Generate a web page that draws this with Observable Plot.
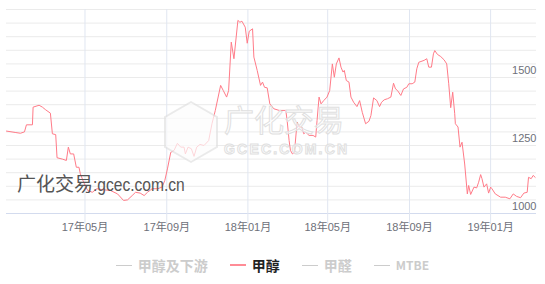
<!DOCTYPE html>
<html>
<head>
<meta charset="utf-8">
<script src="https://cdn.jsdelivr.net/npm/d3@7"></script>
<script src="https://cdn.jsdelivr.net/npm/@observablehq/plot@0.6"></script>
<style>
  body { margin: 0; background: #fff; font-family: "Liberation Sans", "Noto Sans CJK SC", sans-serif; }
  #wrap { position: relative; width: 545px; height: 284px; overflow: hidden; }
  #chart { position: absolute; left: 0; top: 0; }
  .wm-hex { position: absolute; left: 164px; top: 101px; width: 54px; height: 62px; background: #e2e2e2; clip-path: polygon(50% 0, 100% 25%, 100% 75%, 50% 100%, 0 75%, 0 25%); opacity: 0.7; pointer-events: none; }
  .wm-hex::after { content: ""; position: absolute; left: 2px; top: 2px; right: 2px; bottom: 2px; background: rgba(255,255,255,0.92); clip-path: polygon(50% 0, 100% 25%, 100% 75%, 50% 100%, 0 75%, 0 25%); }
  .wm-big { position: absolute; left: 224px; top: 100px; font-family: "Noto Sans CJK SC", sans-serif; font-size: 30px; line-height: 36px; color: rgba(255,255,255,0.6); -webkit-text-stroke: 1px #e0e0e0; pointer-events: none; }
  .wm-small { position: absolute; left: 224px; top: 141px; font-family: "Liberation Sans", sans-serif; font-size: 14px; line-height: 16px; font-weight: bold; color: rgba(255,255,255,0.6); -webkit-text-stroke: 1px #e0e0e0; letter-spacing: 2.2px; pointer-events: none; }
  .wm-site { position: absolute; left: 17px; top: 171px; font-size: 19px; line-height: 24px; color: #555; pointer-events: none; white-space: nowrap; }
  .wm-site .cn { font-family: "Noto Sans CJK SC", sans-serif; }
  .wm-site .en { display: inline-block; font-family: "Liberation Sans", sans-serif; transform: scaleX(0.82); transform-origin: left center; }
  #legend { position: absolute; left: 0; top: 257px; width: 545px; height: 16px; display: flex; justify-content: center; align-items: center; gap: 22px; }
  .item { display: flex; align-items: center; gap: 6px; font-size: 14px; font-weight: bold; font-family: "Noto Sans CJK SC", "Liberation Sans", sans-serif; line-height: 16px; }
  .sw { display: block; width: 16px; height: 1px; background-color: #cccccc; }
  .sw.on { background-color: #ff8c96; height: 1.5px; }
  .lbl { color: #cccccc; }
  .lbl.on { color: #222222; }
</style>
</head>
<body>
<div id="wrap">
  <div id="chart"></div>
  <div class="wm-hex"></div>
  <div class="wm-big">广化交易</div>
  <div class="wm-small">GCEC.COM.CN</div>
  <div class="wm-site"><span class="cn">广化交易</span><span class="en">:gcec.com.cn</span></div>
  <div id="legend"></div>
</div>
<script>
const dates = [
  "2017-01-03","2017-01-16","2017-01-24","2017-01-30","2017-02-02","2017-02-11","2017-02-12","2017-02-21","2017-02-26","2017-03-03",
  "2017-03-10","2017-03-13","2017-03-18","2017-03-20","2017-03-28","2017-04-03","2017-04-06","2017-04-09","2017-04-14","2017-04-18",
  "2017-04-22","2017-04-24","2017-04-29","2017-05-05","2017-05-12","2017-05-19","2017-05-29","2017-06-08","2017-06-19","2017-06-28",
  "2017-07-04","2017-07-11","2017-07-16","2017-07-23","2017-07-29","2017-08-03","2017-08-10","2017-08-18","2017-08-25","2017-08-29",
  "2017-09-02","2017-09-07","2017-09-12","2017-09-17","2017-09-22","2017-09-27","2017-09-29","2017-10-03","2017-10-08","2017-10-12",
  "2017-10-16","2017-10-21","2017-10-27","2017-11-03","2017-11-08","2017-11-13","2017-11-21","2017-11-25","2017-11-30","2017-12-03",
  "2017-12-07","2017-12-11","2017-12-17","2017-12-20","2017-12-23","2017-12-28","2017-12-31","2018-01-03","2018-01-08","2018-01-10",
  "2018-01-15","2018-01-20","2018-01-23","2018-01-26","2018-01-30","2018-02-03","2018-02-09","2018-02-17","2018-02-27","2018-03-01",
  "2018-03-04","2018-03-06","2018-03-09","2018-03-12","2018-03-16","2018-03-19","2018-03-23","2018-03-26","2018-03-29","2018-04-03",
  "2018-04-09","2018-04-13","2018-04-15","2018-04-18","2018-04-21","2018-04-25","2018-04-30","2018-05-04","2018-05-08","2018-05-11",
  "2018-05-14","2018-05-18","2018-05-21","2018-05-24","2018-05-26","2018-05-29","2018-06-02","2018-06-05","2018-06-09","2018-06-14",
  "2018-06-18","2018-06-22","2018-06-27","2018-07-02","2018-07-05","2018-07-09","2018-07-14","2018-07-18","2018-07-21","2018-07-25",
  "2018-07-30","2018-08-04","2018-08-08","2018-08-11","2018-08-14","2018-08-19","2018-08-23","2018-08-28","2018-08-31","2018-09-05",
  "2018-09-09","2018-09-12","2018-09-15","2018-09-23","2018-09-27","2018-09-30","2018-10-04","2018-10-07","2018-10-09","2018-10-13",
  "2018-10-18","2018-10-23","2018-10-27","2018-10-30","2018-11-02","2018-11-05","2018-11-08","2018-11-09","2018-11-13","2018-11-16",
  "2018-11-19","2018-11-23","2018-11-27","2018-11-29","2018-12-02","2018-12-07","2018-12-11","2018-12-14","2018-12-17","2018-12-19",
  "2018-12-22","2018-12-26","2018-12-29","2019-01-01","2019-01-03","2019-01-08","2019-01-16","2019-01-23","2019-01-30","2019-02-04",
  "2019-02-09","2019-02-15","2019-02-20","2019-02-25","2019-02-27","2019-03-03","2019-03-06","2019-03-09"
];
const methanol = [
  1303,1298,1295,1300,1326,1326,1391,1398,1391,1381,
  1369,1293,1290,1205,1200,1195,1244,1219,1219,1170,
  1170,1146,1115,1085,1078,1091,1087,1085,1072,1048,
  1050,1066,1078,1075,1066,1078,1091,1091,1097,1121,
  1164,1225,1232,1258,1244,1244,1219,1244,1238,1210,
  1244,1254,1250,1268,1330,1379,1471,1452,1428,1452,
  1630,1569,1710,1703,1707,1685,1626,1670,1679,1575,
  1526,1471,1483,1464,1462,1403,1385,1379,1379,1342,
  1268,1232,1219,1225,1336,1318,1318,1293,1299,1287,
  1287,1281,1342,1428,1403,1415,1428,1452,1550,1501,
  1550,1572,1538,1520,1526,1489,1483,1428,1409,1393,
  1415,1372,1330,1339,1360,1425,1415,1393,1409,1418,
  1422,1428,1479,1458,1452,1434,1458,1464,1477,1477,
  1483,1532,1556,1563,1569,1538,1538,1587,1599,1585,
  1577,1565,1550,1477,1389,1446,1367,1330,1318,1244,
  1262,1182,1072,1103,1070,1097,1094,1115,1143,1128,
  1097,1109,1075,1097,1091,1072,1060,1060,1054,1072,
  1063,1058,1075,1078,1133,1128,1140,1133
];
const xTicks = ["2017-05-01","2017-09-01","2018-01-01","2018-05-01","2018-09-01","2019-01-01"];
const yLabels = [1000, 1250, 1500];
const yGrid = [1050,1100,1150,1200,1250,1300,1350,1400,1450,1500,1550,1600,1650,1700,1750];
const legendNames = ["甲醇及下游", "甲醇", "甲醛", "MTBE"];
const activeSeries = "甲醇";

const data = dates.map((d, i) => ({date: new Date(d), value: methanol[i]}));
const tickDates = xTicks.map(d => new Date(d));
const fmt = d3.utcFormat("%y年%m月");

const chart = Plot.plot({
  width: 545,
  height: 245,
  marginLeft: 6,
  marginRight: 9,
  marginTop: 9,
  marginBottom: 32,
  style: {fontFamily: "'Liberation Sans','Noto Sans CJK SC',sans-serif", background: "transparent"},
  x: {type: "utc", domain: [new Date("2017-01-03"), new Date("2019-03-11")]},
  y: {domain: [1000, 1750], axis: null},
  marks: [
    Plot.ruleY(yGrid, {stroke: "#ebebeb", strokeWidth: 1}),
    Plot.ruleX(tickDates, {stroke: "#e0e6f1", strokeWidth: 1}),
    Plot.ruleY([1000], {stroke: "#d3dbee", strokeWidth: 1}),
    Plot.line(data, {x: "date", y: "value", stroke: "#ff7b88", strokeWidth: 1}),
    Plot.text(yLabels, {y: d => d, text: d => String(d), frameAnchor: "right", textAnchor: "end", dy: -7, fill: "#6e7079", fontSize: 11}),
    Plot.axisX(tickDates, {tickSize: 11, tickPadding: -1, stroke: "#e0e6f1", fill: "#6e7079", fontSize: 11, tickFormat: fmt, label: null})
  ]
});
document.getElementById("chart").appendChild(chart);

const legend = document.getElementById("legend");
legendNames.forEach(name => {
  const item = document.createElement("div");
  item.className = "item";
  const sw = document.createElement("span");
  const label = document.createElement("span");
  label.textContent = name;
  const on = name === activeSeries;
  sw.className = on ? "sw on" : "sw";
  label.className = on ? "lbl on" : "lbl";
  if (name === "MTBE") label.style.fontSize = "12px";
  item.appendChild(sw);
  item.appendChild(label);
  legend.appendChild(item);
});
</script>
</body>
</html>
